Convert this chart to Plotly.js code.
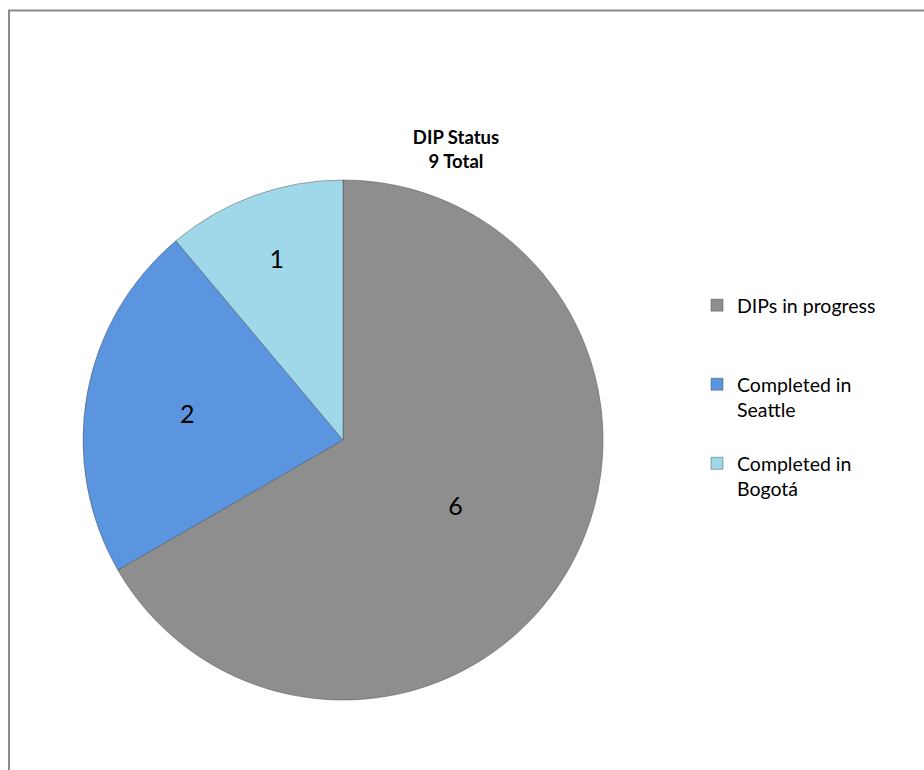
<!DOCTYPE html>
<html>
<head>
<meta charset="utf-8">
<script src="https://cdn.plot.ly/plotly-3.0.1.min.js"></script>
<style>html,body{margin:0;padding:0;background:#fff;}#chart{width:924px;height:770px;}</style>
</head>
<body>
<div id="chart"></div>
<script>
var labels = ["DIPs in progress", "Completed in Seattle", "Completed in Bogotá"];
var legendLabels = ["DIPs in progress<br> <br> ", "Completed in<br>Seattle<br> ", "Completed in<br>Bogotá"];
var values = [6, 2, 1];
var colors = ["#8e8e8e", "#5b95e0", "#9fd8e8"];
var titleText = "<b>DIP Status<br>9 Total</b>";

var trace = {
  type: "pie",
  labels: legendLabels,
  values: values,
  sort: false,
  direction: "clockwise",
  rotation: 0,
  textinfo: "value",
  textposition: "inside",
  insidetextorientation: "horizontal",
  textfont: {family: "Lato, 'Noto Sans', sans-serif", size: 25, color: "#000"},
  marker: {colors: colors, line: {color: "rgba(70,70,70,0.45)", width: 1}},
  domain: {x: [83/924, 603/924], y: [1 - 700/770, 1 - 180/770]},
  hoverinfo: "label+value"
};

var layout = {
  width: 924, height: 770,
  margin: {l: 0, r: 0, t: 0, b: 0},
  paper_bgcolor: "#fff",
  font: {family: "Lato, 'Noto Sans', sans-serif", color: "#000"},
  title: {
    text: titleText,
    x: 456/924, xanchor: "center", xref: "container",
    y: 1 - 144/770, yanchor: "top", yref: "container",
    font: {size: 18.5, color: "#000", family: "Lato, 'Noto Sans', sans-serif"}
  },
  showlegend: true,
  legend: {
    x: 697/924, xanchor: "left",
    y: 1 - 286/770, yanchor: "top",
    valign: "top",
    font: {size: 19.5, color: "#000"},
    bgcolor: "rgba(0,0,0,0)",
    traceorder: "normal"
  },
  shapes: [{
    type: "rect", xref: "paper", yref: "paper",
    x0: 9/924, x1: 1.05, y0: -0.05, y1: 1 - 10.5/770,
    line: {color: "#8a8a8a", width: 2}, fillcolor: "rgba(0,0,0,0)", layer: "above"
  }]
};

Plotly.newPlot("chart", [trace], layout, {displayModeBar: false, staticPlot: true});
</script>
</body>
</html>
